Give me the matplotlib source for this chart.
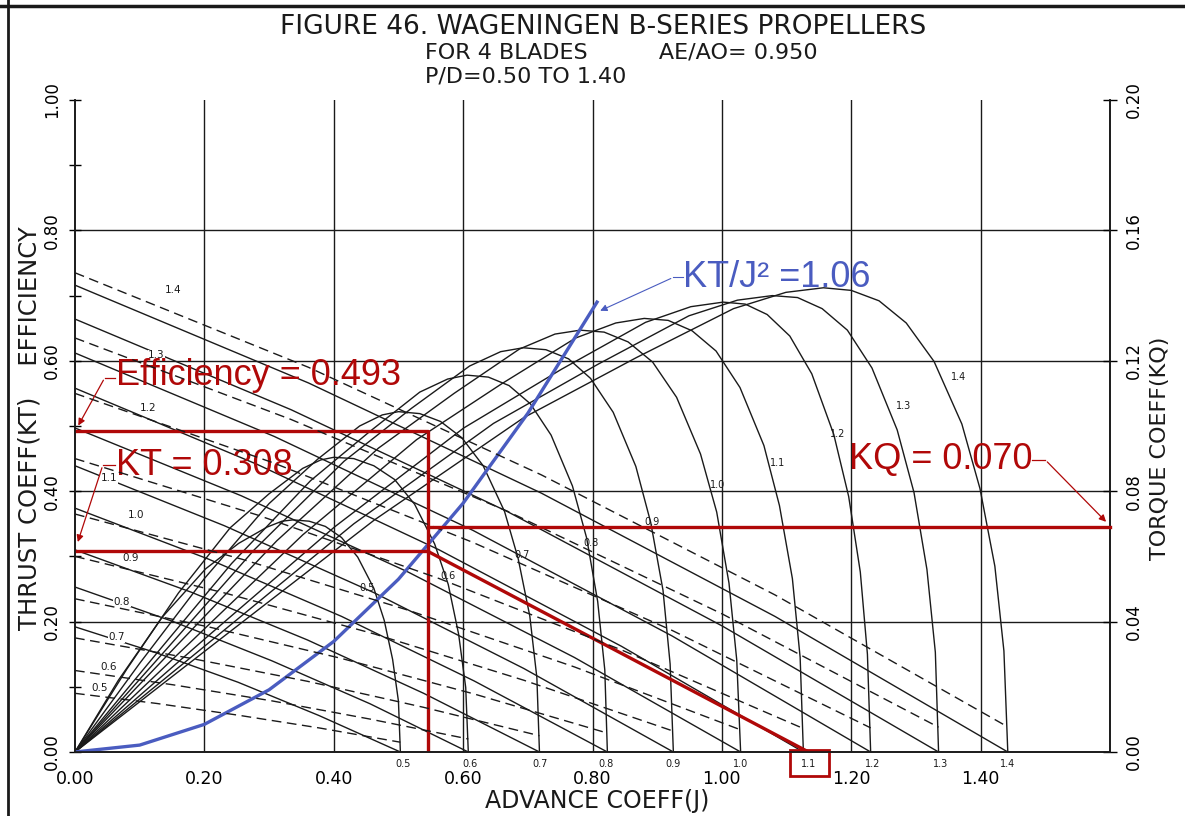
import matplotlib
matplotlib.use("Agg")
import matplotlib.pyplot as plt
from matplotlib.patches import Rectangle
from matplotlib.lines import Line2D

# ---------------- data ----------------
pd_labels = ["0.5", "0.6", "0.7", "0.8", "0.9", "1.0", "1.1", "1.2", "1.3", "1.4"]

# thrust coefficient KT vs J (solid lines)
kt_j = [
    [0, 0.126, 0.252, 0.377, 0.503],
    [0, 0.152, 0.304, 0.456, 0.608],
    [0, 0.180, 0.359, 0.539, 0.718],
    [0, 0.206, 0.412, 0.617, 0.823],
    [0, 0.231, 0.463, 0.694, 0.925],
    [0, 0.257, 0.515, 0.772, 1.029],
    [0, 0.282, 0.563, 0.845, 1.126],
    [0, 0.308, 0.615, 0.923, 1.230],
    [0, 0.334, 0.668, 1.001, 1.335],
    [0, 0.361, 0.721, 1.082, 1.442],
]
kt_v = [
    [0.192, 0.152, 0.107, 0.056, 0],
    [0.253, 0.200, 0.140, 0.074, 0],
    [0.310, 0.245, 0.172, 0.090, 0],
    [0.374, 0.296, 0.208, 0.109, 0],
    [0.439, 0.347, 0.244, 0.128, 0],
    [0.497, 0.393, 0.276, 0.145, 0],
    [0.558, 0.441, 0.310, 0.162, 0],
    [0.612, 0.484, 0.340, 0.178, 0],
    [0.664, 0.525, 0.369, 0.193, 0],
    [0.716, 0.566, 0.397, 0.208, 0],
]

# torque coefficient KQ vs J (dashed lines, right axis)
kq_j = kt_j
kq_v = [
    [0.018, 0.0149, 0.0113, 0.0074, 0.0030],
    [0.025, 0.0206, 0.0157, 0.0101, 0.0040],
    [0.035, 0.0287, 0.0217, 0.0137, 0.0050],
    [0.047, 0.0384, 0.0287, 0.0178, 0.0058],
    [0.060, 0.0488, 0.0362, 0.0220, 0.0064],
    [0.073, 0.0592, 0.0435, 0.0261, 0.0068],
    [0.090, 0.0727, 0.0532, 0.0313, 0.0072],
    [0.110, 0.0886, 0.0643, 0.0373, 0.0074],
    [0.127, 0.1020, 0.0739, 0.0423, 0.0076],
    [0.147, 0.1180, 0.0850, 0.0482, 0.0077],
]

# open water efficiency vs J
eta_j = [
    [0, 0.067, 0.135, 0.202, 0.253, 0.297, 0.320, 0.337, 0.362, 0.387, 0.412, 0.437, 0.462, 0.478, 0.491, 0.500, 0.503],
    [0, 0.080, 0.160, 0.240, 0.300, 0.352, 0.380, 0.400, 0.431, 0.462, 0.494, 0.525, 0.556, 0.577, 0.593, 0.604, 0.608],
    [0, 0.100, 0.200, 0.300, 0.375, 0.440, 0.475, 0.500, 0.533, 0.565, 0.598, 0.631, 0.664, 0.685, 0.703, 0.714, 0.718],
    [0, 0.121, 0.242, 0.364, 0.455, 0.533, 0.576, 0.606, 0.639, 0.671, 0.704, 0.736, 0.769, 0.791, 0.808, 0.819, 0.823],
    [0, 0.139, 0.277, 0.416, 0.520, 0.610, 0.658, 0.693, 0.728, 0.763, 0.797, 0.832, 0.867, 0.890, 0.909, 0.920, 0.925],
    [0, 0.156, 0.312, 0.469, 0.586, 0.687, 0.742, 0.781, 0.818, 0.855, 0.893, 0.930, 0.967, 0.992, 1.011, 1.023, 1.029],
    [0, 0.176, 0.352, 0.528, 0.660, 0.774, 0.836, 0.880, 0.917, 0.954, 0.991, 1.028, 1.065, 1.089, 1.109, 1.121, 1.126],
    [0, 0.200, 0.401, 0.601, 0.752, 0.882, 0.952, 1.002, 1.036, 1.070, 1.105, 1.139, 1.173, 1.196, 1.214, 1.225, 1.230],
    [0, 0.216, 0.431, 0.647, 0.809, 0.949, 1.024, 1.078, 1.117, 1.155, 1.194, 1.232, 1.271, 1.297, 1.317, 1.330, 1.335],
    [0, 0.231, 0.463, 0.694, 0.868, 1.018, 1.099, 1.157, 1.200, 1.243, 1.285, 1.328, 1.371, 1.399, 1.422, 1.436, 1.442],
]
eta_v = [
    [0, 0.110, 0.207, 0.281, 0.320, 0.345, 0.354, 0.356, 0.354, 0.346, 0.329, 0.299, 0.251, 0.202, 0.142, 0.078, 0],
    [0, 0.127, 0.244, 0.344, 0.396, 0.435, 0.448, 0.452, 0.450, 0.439, 0.418, 0.380, 0.319, 0.257, 0.181, 0.099, 0],
    [0, 0.136, 0.266, 0.381, 0.449, 0.500, 0.517, 0.522, 0.519, 0.507, 0.482, 0.439, 0.369, 0.297, 0.209, 0.114, 0],
    [0, 0.145, 0.289, 0.416, 0.491, 0.552, 0.572, 0.578, 0.575, 0.562, 0.534, 0.486, 0.408, 0.328, 0.231, 0.126, 0],
    [0, 0.155, 0.310, 0.446, 0.527, 0.592, 0.614, 0.620, 0.617, 0.603, 0.573, 0.521, 0.438, 0.352, 0.248, 0.135, 0],
    [0, 0.162, 0.324, 0.466, 0.550, 0.618, 0.641, 0.647, 0.644, 0.629, 0.598, 0.544, 0.457, 0.368, 0.259, 0.141, 0],
    [0, 0.166, 0.333, 0.479, 0.565, 0.635, 0.658, 0.665, 0.662, 0.646, 0.615, 0.559, 0.470, 0.378, 0.266, 0.145, 0],
    [0, 0.173, 0.345, 0.497, 0.587, 0.659, 0.683, 0.690, 0.687, 0.671, 0.638, 0.580, 0.487, 0.392, 0.276, 0.150, 0],
    [0, 0.175, 0.350, 0.504, 0.595, 0.669, 0.693, 0.700, 0.697, 0.680, 0.647, 0.589, 0.494, 0.398, 0.280, 0.153, 0],
    [0, 0.178, 0.356, 0.513, 0.605, 0.680, 0.705, 0.712, 0.708, 0.692, 0.658, 0.599, 0.503, 0.404, 0.285, 0.155, 0],
]

# label positions of the curve annotations
eta_label_j = [0.452, 0.577, 0.691, 0.797, 0.892, 0.993, 1.086, 1.179, 1.281, 1.366]
eta_label_v = [0.252, 0.270, 0.302, 0.321, 0.353, 0.410, 0.443, 0.488, 0.531, 0.575]
kq_label_j = [0.026, 0.039, 0.051, 0.060, 0.073, 0.082, 0.040, 0.100, 0.113, 0.139]
kq_label_v = [0.098, 0.130, 0.176, 0.230, 0.298, 0.363, 0.420, 0.528, 0.609, 0.709]
end_label_j = [0.507, 0.611, 0.719, 0.821, 0.925, 1.029, 1.134, 1.233, 1.338, 1.442]

# blue KT = 1.06 J^2 curve
blue_j = [0, 0.1, 0.2, 0.3, 0.4, 0.5, 0.6, 0.7, 0.807]
blue_kt = [0, 0.0106, 0.0424, 0.0954, 0.1696, 0.265, 0.3816, 0.5194, 0.690]

# operating point read-out
op_j = 0.545
op_eta = 0.493
op_kt = 0.308
op_kq = 0.069
op_pd_j = 1.134

xticks = [0.0, 0.2, 0.4, 0.6, 0.8, 1.0, 1.2, 1.4]
xtick_labels = ["0.00", "0.20", "0.40", "0.60", "0.80", "1.00", "1.20", "1.40"]
yticks = [0.0, 0.2, 0.4, 0.6, 0.8, 1.0]
ytick_labels = ["0.00", "0.20", "0.40", "0.60", "0.80", "1.00"]
kqticks = [0.0, 0.04, 0.08, 0.12, 0.16, 0.20]
kqtick_labels = ["0.00", "0.04", "0.08", "0.12", "0.16", "0.20"]

# ---------------- figure ----------------
FONT = ["DejaVu Sans"]
RED = "#B00808"
BLUE = "#4a5cc0"
INK = "#1a1a1a"

fig = plt.figure(figsize=(11.85, 8.16), dpi=100)
ax = fig.add_axes([75 / 1185, 64 / 816, 1035 / 1185, 652 / 816])
ax.set_xlim(0, 1.6)
ax.set_ylim(0, 1.0)
ax2 = ax.twinx()
ax2.set_ylim(0, 0.2)

for a in (ax, ax2):
    for s in a.spines.values():
        s.set_linewidth(1.2)
        s.set_color(INK)
    a.spines["top"].set_visible(False)

# page border marks of the scanned sheet
fig.add_artist(Line2D([0, 1], [1 - 6 / 816, 1 - 6 / 816], color=INK, lw=2.5))
fig.add_artist(Line2D([8 / 1185, 8 / 1185], [0, 1], color=INK, lw=2.0))

# grid
for x in xticks[1:] + [1.6]:
    ax.plot([x, x], [0, 1.0], color=INK, lw=1.0, zorder=1)
for y in yticks[1:-1]:
    ax.plot([0, 1.6], [y, y], color=INK, lw=1.0, zorder=1)

# curves
for i in range(len(pd_labels)):
    ax.plot(kt_j[i], kt_v[i], color=INK, lw=1.0, zorder=2)
    ax2.plot(kq_j[i], kq_v[i], color=INK, lw=1.0, ls=(0, (7, 4)), zorder=2)
    ax.plot(eta_j[i], eta_v[i], color=INK, lw=1.0, zorder=2)
    ax.text(eta_label_j[i], eta_label_v[i], pd_labels[i], fontsize=7, family=FONT,
            color=INK, ha="center", va="center", zorder=3)
    ax.text(kq_label_j[i], kq_label_v[i], pd_labels[i], fontsize=7.5, family=FONT,
            color=INK, ha="left", va="center", zorder=3,
            bbox=dict(facecolor="white", edgecolor="none", pad=0.3))
    ax.text(end_label_j[i], -0.018, pd_labels[i], fontsize=7, family=FONT,
            color=INK, ha="center", va="center", clip_on=False)

# ticks
ax.set_xticks(xticks)
ax.set_xticklabels(xtick_labels, family=FONT, fontsize=12.5)
ax.set_yticks(yticks)
ax.set_yticklabels(ytick_labels, family=FONT, fontsize=12, rotation=90, va="center")
ax.set_yticks([0.1, 0.3, 0.5, 0.7, 0.9], minor=True)
ax.tick_params(axis="x", length=0, pad=13)
ax.tick_params(axis="y", which="both", direction="inout", length=8, width=1.0, pad=6)
ax2.set_yticks(kqticks)
ax2.set_yticklabels(kqtick_labels, family=FONT, fontsize=12, rotation=90, va="center")
ax2.tick_params(axis="y", direction="inout", length=10, width=1.0, pad=6)

fig.text(597 / 1185, 1 - 801 / 816, "ADVANCE COEFF(J)", family=FONT, fontsize=17,
         ha="center", va="center", color=INK)
fig.text(30 / 1185, 1 - 428 / 816, "THRUST COEFF(KT)    EFFICIENCY", family=FONT,
         fontsize=17.5, rotation=90, ha="center", va="center", color=INK)
fig.text(1160 / 1185, 1 - 448 / 816, "TORQUE COEFF(KQ)", family=FONT, fontsize=16,
         rotation=90, ha="center", va="center", color=INK)

fig.text(280 / 1185, 1 - 27 / 816, "FIGURE 46. WAGENINGEN B-SERIES PROPELLERS",
         family=FONT, fontsize=19, ha="left", va="center", color=INK)
fig.text(425 / 1185, 1 - 52 / 816, "FOR 4 BLADES          AE/AO= 0.950",
         family=FONT, fontsize=16, ha="left", va="center", color=INK)
fig.text(425 / 1185, 1 - 77 / 816, "P/D=0.50 TO 1.40",
         family=FONT, fontsize=16, ha="left", va="center", color=INK)

# blue KT/J^2 curve
ax.plot(blue_j, blue_kt, color=BLUE, lw=2.4, zorder=5)
ax.text(0.94, 0.728, "KT/J² =1.06", color=BLUE, fontsize=26, family="Liberation Sans",
        ha="left", va="center", zorder=6)
ax.plot([0.94, 0.925], [0.728, 0.728], color=BLUE, lw=0.8, zorder=6)
ax.annotate("", xy=(0.808, 0.675), xytext=(0.925, 0.728),
            arrowprops=dict(arrowstyle="-|>", color=BLUE, lw=0.8, mutation_scale=10), zorder=6)

# red operating point construction
ax.plot([0, op_j, op_j], [op_eta, op_eta, 0], color=RED, lw=2.4, zorder=5)
ax.plot([0, op_j], [op_kt, op_kt], color=RED, lw=2.4, zorder=5)
ax.plot([op_j, op_pd_j], [op_kt, 0], color=RED, lw=2.4, zorder=5)
ax2.plot([op_j, 1.6], [op_kq, op_kq], color=RED, lw=2.4, zorder=5, clip_on=False)
ax.add_patch(Rectangle((1.106, -0.037), 0.059, 0.040, fill=False, edgecolor=RED,
                       lw=2.0, clip_on=False, zorder=6))

ax.text(0.064, 0.577, "Efficiency = 0.493", color=RED, fontsize=26,
        family="Liberation Sans", ha="left", va="center", zorder=6)
ax.text(0.064, 0.440, "KT = 0.308", color=RED, fontsize=26,
        family="Liberation Sans", ha="left", va="center", zorder=6)
ax.text(1.196, 0.448, "KQ = 0.070", color=RED, fontsize=26,
        family="Liberation Sans", ha="left", va="center", zorder=6)

def red_arrow(p0, p1, p2):
    ax.plot([p0[0], p1[0]], [p0[1], p1[1]], color=RED, lw=0.9, zorder=6, clip_on=False)
    ax.annotate("", xy=p2, xytext=p1,
                arrowprops=dict(arrowstyle="-|>", color=RED, lw=0.9, mutation_scale=10),
                zorder=6, annotation_clip=False)

red_arrow((0.062, 0.574), (0.046, 0.574), (0.003, 0.497))
red_arrow((0.062, 0.440), (0.043, 0.440), (0.003, 0.318))
red_arrow((1.48, 0.448), (1.50, 0.448), (1.597, 0.350))

fig.savefig("out.png", dpi=100, facecolor="white")
